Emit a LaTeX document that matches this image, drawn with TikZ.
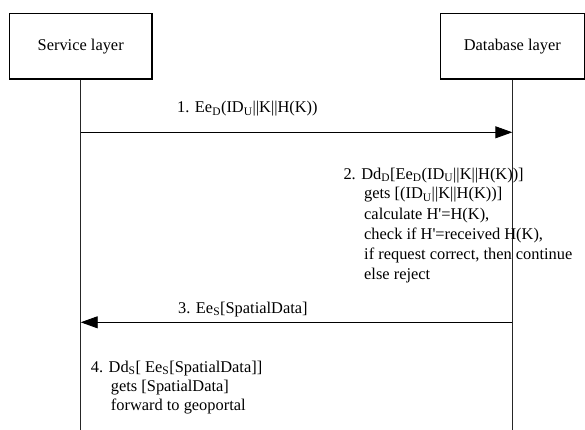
\documentclass[tikz,border=0pt]{standalone}
\usepackage{fontspec}
\setmainfont{Liberation Serif}
\usetikzlibrary{arrows.meta}
\begin{document}
\begin{tikzpicture}[x=1pt,y=-1pt,
  every node/.style={font=\fontsize{16.4}{20}\selectfont, inner sep=0pt},
  layerbox/.style={draw, line width=1.2pt, minimum width=142.7pt, minimum height=65.7pt},
  lifeline/.style={line width=0.9pt, draw=black!85},
  msg/.style={line width=0.9pt, -{Triangle[length=17pt,width=12pt]}},
  txt/.style={anchor=base west}]
  \useasboundingbox (0,0) rectangle (585,430);

  % participants
  \node[layerbox] (svc) at (80.7,46.2) {Service layer};
  \node[layerbox, minimum width=144pt] (db) at (512.3,46.2) {Database layer};

  % lifelines
  \coordinate (svcend) at (svc.south |- 0,430);
  \coordinate (dbend) at (db.south |- 0,430);
  \draw[lifeline] (svc.south) -- (svcend);
  \draw[lifeline] (db.south) -- (dbend);

  % message 1
  \coordinate (s1) at (svc.south |- 0,132.3);
  \coordinate (d1) at (db.south |- 0,132.3);
  \draw[msg] (s1) -- (d1);
  \node[txt] (m1) at (177,113) {1. Ee\textsubscript{D}(ID\textsubscript{U}||K||H(K))};

  % step 2 at the database layer
  \node[txt] (t2a) at (343.3,179) {2. Dd\textsubscript{D}[Ee\textsubscript{D}(ID\textsubscript{U}||K||H(K))]};
  \node[txt] (t2b) at (364,199) {gets [(ID\textsubscript{U}||K||H(K))]};
  \node[txt] (t2c) at (364,219) {calculate H\textquotesingle=H(K),};
  \node[txt] (t2d) at (364,239) {check if H\textquotesingle=received H(K),};
  \node[txt] (t2e) at (364,259) {if request correct, then continue};
  \node[txt] (t2f) at (364,279) {else reject};

  % message 3
  \coordinate (d3) at (db.south |- 0,322.3);
  \coordinate (s3) at (svc.south |- 0,322.3);
  \draw[msg] (d3) -- (s3);
  \node[txt] (m3) at (178,313) {3. Ee\textsubscript{S}[SpatialData]};

  % step 4 at the service layer
  \node[txt] (t4a) at (90.7,372) {4. Dd\textsubscript{S}[ Ee\textsubscript{S}[SpatialData]]};
  \node[txt] (t4b) at (110.7,391) {gets [SpatialData]};
  \node[txt] (t4c) at (110.7,410) {forward to geoportal};
\end{tikzpicture}
\end{document}
